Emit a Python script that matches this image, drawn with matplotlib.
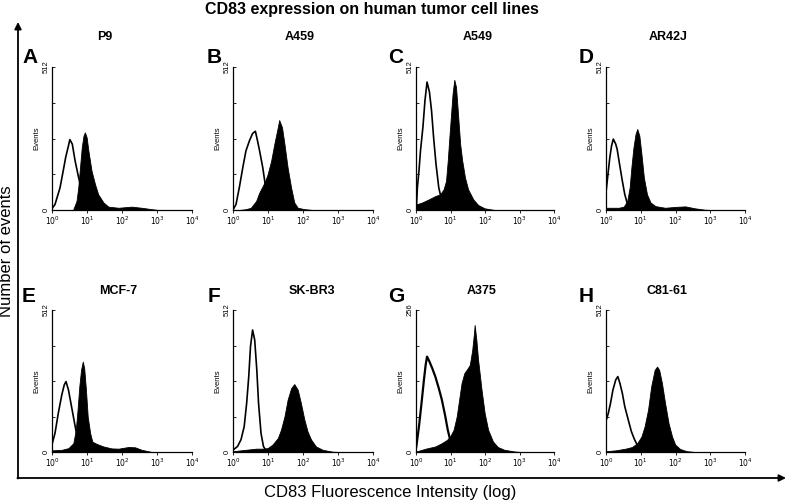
import numpy as np
import matplotlib
matplotlib.use("Agg")
import matplotlib.pyplot as plt
from matplotlib.ticker import LogLocator, NullFormatter, FixedLocator

plt.rcParams['font.family'] = ['Liberation Sans', 'DejaVu Sans']

# ---------------- data (log10 fluorescence, event counts) ----------------
panel_letters = ["A", "B", "C", "D", "E", "F", "G", "H"]
cell_lines = ["P9", "A459", "A549", "AR42J", "MCF-7", "SK-BR3", "A375", "C81-61"]
y_max = [512, 512, 512, 512, 512, 512, 256, 512]
x_tick_labels = ["$10^0$", "$10^1$", "$10^2$", "$10^3$", "$10^4$"]

# A: P9
A_iso_logx = [0.0, 0.086, 0.23, 0.32, 0.39, 0.47, 0.51, 0.58, 0.66, 0.75, 0.85, 0.94, 1.09, 1.32]
A_iso_cnt = [5, 20, 80, 140, 188, 230, 252, 236, 176, 122, 68, 32, 8, 0]
A_cd83_logx = [0.61, 0.70, 0.75, 0.80, 0.85, 0.90, 0.94, 0.99, 1.04, 1.13, 1.23, 1.32, 1.47, 1.61, 1.90, 2.28, 2.56, 2.85, 3.04]
A_cd83_cnt = [3, 32, 80, 152, 224, 266, 278, 260, 212, 140, 92, 56, 27, 12, 8, 12, 8, 3, 0]
# B: A459
B_iso_logx = [0.01, 0.086, 0.18, 0.28, 0.37, 0.47, 0.56, 0.64, 0.70, 0.75, 0.85, 0.92, 0.99, 1.09, 1.23, 1.42]
B_iso_cnt = [3, 20, 80, 152, 212, 248, 274, 282, 248, 218, 152, 92, 45, 14, 3, 0]
B_cd83_logx = [0.18, 0.37, 0.51, 0.66, 0.75, 0.85, 0.92, 0.99, 1.09, 1.18, 1.28, 1.32, 1.40, 1.47, 1.56, 1.66, 1.75, 1.85, 2.04, 2.28]
B_cd83_cnt = [0, 3, 8, 32, 62, 86, 104, 128, 176, 236, 296, 322, 296, 236, 152, 80, 27, 8, 3, 0]
# C: A549
C_iso_logx = [0.01, 0.04, 0.086, 0.13, 0.20, 0.26, 0.32, 0.39, 0.45, 0.51, 0.58, 0.66, 0.75, 0.85, 0.99]
C_iso_cnt = [3, 80, 140, 212, 296, 392, 458, 422, 356, 260, 164, 80, 32, 8, 0]
C_cd83_logx = [0.01, 0.18, 0.37, 0.56, 0.70, 0.80, 0.87, 0.92, 0.96, 1.01, 1.06, 1.11, 1.16, 1.21, 1.28, 1.34, 1.42, 1.51, 1.66, 1.80, 1.99, 2.28]
C_cd83_cnt = [20, 27, 38, 50, 56, 74, 104, 176, 248, 332, 416, 466, 440, 356, 236, 176, 116, 74, 38, 18, 6, 0]
# D: AR42J
D_iso_logx = [0.01, 0.067, 0.11, 0.16, 0.21, 0.28, 0.32, 0.39, 0.47, 0.54, 0.62, 0.70, 0.85]
D_iso_cnt = [74, 140, 188, 230, 254, 236, 218, 164, 104, 56, 20, 6, 0]
D_cd83_logx = [0.01, 0.18, 0.37, 0.51, 0.61, 0.68, 0.73, 0.79, 0.85, 0.90, 0.96, 1.02, 1.09, 1.18, 1.28, 1.42, 1.70, 1.99, 2.28, 2.56, 2.85, 3.04]
D_cd83_cnt = [8, 8, 8, 12, 32, 80, 152, 224, 272, 290, 266, 200, 116, 56, 27, 14, 8, 11, 13, 6, 1, 0]
# E: MCF-7
E_iso_logx = [0.01, 0.086, 0.18, 0.28, 0.35, 0.40, 0.47, 0.54, 0.61, 0.68, 0.75, 0.85, 0.99, 1.13]
E_iso_cnt = [32, 68, 140, 206, 242, 254, 224, 176, 128, 80, 38, 14, 3, 0]
E_cd83_logx = [0.01, 0.28, 0.47, 0.61, 0.68, 0.73, 0.78, 0.83, 0.88, 0.92, 0.97, 1.02, 1.09, 1.15, 1.23, 1.32, 1.47, 1.70, 1.90, 2.18, 2.37, 2.56, 2.85]
E_cd83_cnt = [6, 8, 14, 32, 80, 152, 236, 296, 326, 302, 224, 128, 68, 38, 32, 27, 20, 13, 12, 18, 17, 8, 0]
# F: SK-BR3
F_iso_logx = [0.01, 0.13, 0.23, 0.32, 0.39, 0.45, 0.50, 0.56, 0.62, 0.68, 0.73, 0.80, 0.87, 0.94, 1.09]
F_iso_cnt = [8, 20, 45, 92, 176, 272, 380, 440, 404, 296, 176, 68, 20, 6, 0]
F_cd83_logx = [0.01, 0.37, 0.66, 0.85, 0.99, 1.13, 1.28, 1.37, 1.47, 1.56, 1.66, 1.75, 1.85, 1.94, 2.04, 2.13, 2.23, 2.37, 2.56, 2.85, 3.04]
F_cd83_cnt = [3, 8, 12, 12, 14, 27, 50, 80, 128, 188, 230, 245, 224, 176, 116, 74, 45, 20, 8, 1, 0]
# G: A375 (scale 256)
G_iso_logx = [0.01, 0.086, 0.16, 0.23, 0.28, 0.32, 0.39, 0.47, 0.56, 0.66, 0.75, 0.85, 0.92, 0.99, 1.09, 1.23, 1.42]
G_iso_cnt = [10, 46, 88, 130, 157, 172, 163, 151, 136, 115, 94, 64, 40, 22, 10, 3, 0]
G_cd83_logx = [0.01, 0.28, 0.56, 0.75, 0.90, 0.99, 1.09, 1.18, 1.25, 1.32, 1.40, 1.50, 1.56, 1.63, 1.68, 1.70, 1.75, 1.80, 1.90, 1.99, 2.09, 2.23, 2.37, 2.56, 2.85, 3.04]
G_cd83_cnt = [1, 6, 10, 16, 22, 28, 40, 64, 94, 124, 142, 151, 157, 184, 214, 229, 202, 166, 112, 70, 40, 19, 9, 4, 1, 0]
# H: C81-61
H_iso_logx = [0.01, 0.067, 0.13, 0.20, 0.28, 0.34, 0.40, 0.47, 0.54, 0.64, 0.73, 0.82, 0.92, 1.04, 1.23]
H_iso_cnt = [116, 140, 176, 224, 260, 272, 248, 212, 164, 116, 74, 45, 20, 8, 0]
H_cd83_logx = [0.01, 0.28, 0.56, 0.75, 0.90, 1.02, 1.11, 1.21, 1.30, 1.40, 1.47, 1.53, 1.61, 1.70, 1.80, 1.90, 1.99, 2.13, 2.32, 2.56]
H_cd83_cnt = [3, 6, 12, 18, 32, 56, 92, 152, 236, 296, 308, 296, 248, 176, 104, 56, 27, 11, 3, 0]

iso_logx = [A_iso_logx, B_iso_logx, C_iso_logx, D_iso_logx, E_iso_logx, F_iso_logx, G_iso_logx, H_iso_logx]
iso_cnt = [A_iso_cnt, B_iso_cnt, C_iso_cnt, D_iso_cnt, E_iso_cnt, F_iso_cnt, G_iso_cnt, H_iso_cnt]
cd83_logx = [A_cd83_logx, B_cd83_logx, C_cd83_logx, D_cd83_logx, E_cd83_logx, F_cd83_logx, G_cd83_logx, H_cd83_logx]
cd83_cnt = [A_cd83_cnt, B_cd83_cnt, C_cd83_cnt, D_cd83_cnt, E_cd83_cnt, F_cd83_cnt, G_cd83_cnt, H_cd83_cnt]

# ---------------- layout (pixels) ----------------
W, H = 787, 501
fig = plt.figure(figsize=(W / 100, H / 100), dpi=100)
fig.patch.set_facecolor("white")

col_x = [(52, 192), (233, 373), (416, 554), (606, 745)]
row_y = [(67, 210), (310, 452)]
title_pos = [(105, 37), (300, 37), (478, 37), (668, 37),
             (118, 291), (312, 291), (482, 291), (667, 291)]
letter_pos = [(22, 63), (207, 63), (388, 63), (579, 63),
              (22, 302), (208, 302), (388, 302), (579, 302)]

# overlay axes in pixel coordinates for decorations
ov = fig.add_axes([0, 0, 1, 1], zorder=5)
ov.set_xlim(0, W)
ov.set_ylim(H, 0)
ov.axis("off")
ov.patch.set_alpha(0)

for i in range(8):
    r, c = divmod(i, 4)
    x0, x1 = col_x[c]
    y0, y1 = row_y[r]
    ax = fig.add_axes([x0 / W, 1 - y1 / H, (x1 - x0) / W, (y1 - y0) / H])
    ax.set_facecolor("none")
    xf = 10 ** np.array(cd83_logx[i])
    ax.fill_between(xf, cd83_cnt[i], 0, color="black", lw=0.6, edgecolor="black")
    xi = 10 ** np.array(iso_logx[i])
    ax.plot(xi, iso_cnt[i], color="black", lw=1.6 if i == 6 else 1.2)
    ax.set_xscale("log")
    ax.set_xlim(1, 1e4)
    ax.set_ylim(0, y_max[i])
    for s in ["top", "right"]:
        ax.spines[s].set_visible(False)
    for s in ["left", "bottom"]:
        ax.spines[s].set_linewidth(0.9)
    ax.xaxis.set_major_locator(FixedLocator([1, 10, 100, 1000, 10000]))
    ax.set_xticklabels(x_tick_labels, fontsize=5.5)
    ax.xaxis.set_minor_locator(LogLocator(base=10, subs=np.arange(2, 10)))
    ax.xaxis.set_minor_formatter(NullFormatter())
    ax.set_yticks(np.linspace(0, y_max[i], 5))
    ax.set_yticklabels(["0", "", "", "", str(y_max[i])], rotation=90, fontsize=5.5, va="center")
    ax.tick_params(axis="x", which="major", length=2.5, width=0.6, pad=1)
    ax.tick_params(axis="y", which="major", length=2.5, width=0.6, pad=1.5, direction="in")
    ax.tick_params(axis="x", which="minor", length=1.5, width=0.5)
    ax.set_ylabel("Events", fontsize=5.5, labelpad=1.5)

    ov.text(title_pos[i][0], title_pos[i][1], cell_lines[i], fontsize=9,
            fontweight="bold", ha="center", va="center")
    ov.text(letter_pos[i][0], letter_pos[i][1], panel_letters[i], fontsize=15,
            fontweight="bold", ha="left", va="baseline")

# big arrows
ov.annotate("", xy=(18, 22), xytext=(18, 478.5),
            arrowprops=dict(arrowstyle="-|>", lw=1.3, color="black", mutation_scale=10,
                            shrinkA=0, shrinkB=0))
ov.annotate("", xy=(786, 478), xytext=(17.4, 478),
            arrowprops=dict(arrowstyle="-|>", lw=1.3, color="black", mutation_scale=10,
                            shrinkA=0, shrinkB=0))

ov.text(372, 9, "CD83 expression on human tumor cell lines", fontsize=11.5,
        fontweight="bold", ha="center", va="center")
ov.text(7, 251, "Number of events", fontsize=12, rotation=90, ha="center", va="center")
ov.text(390, 492, "CD83 Fluorescence Intensity (log)", fontsize=12, ha="center", va="center")

fig.savefig("out.png", dpi=100)
